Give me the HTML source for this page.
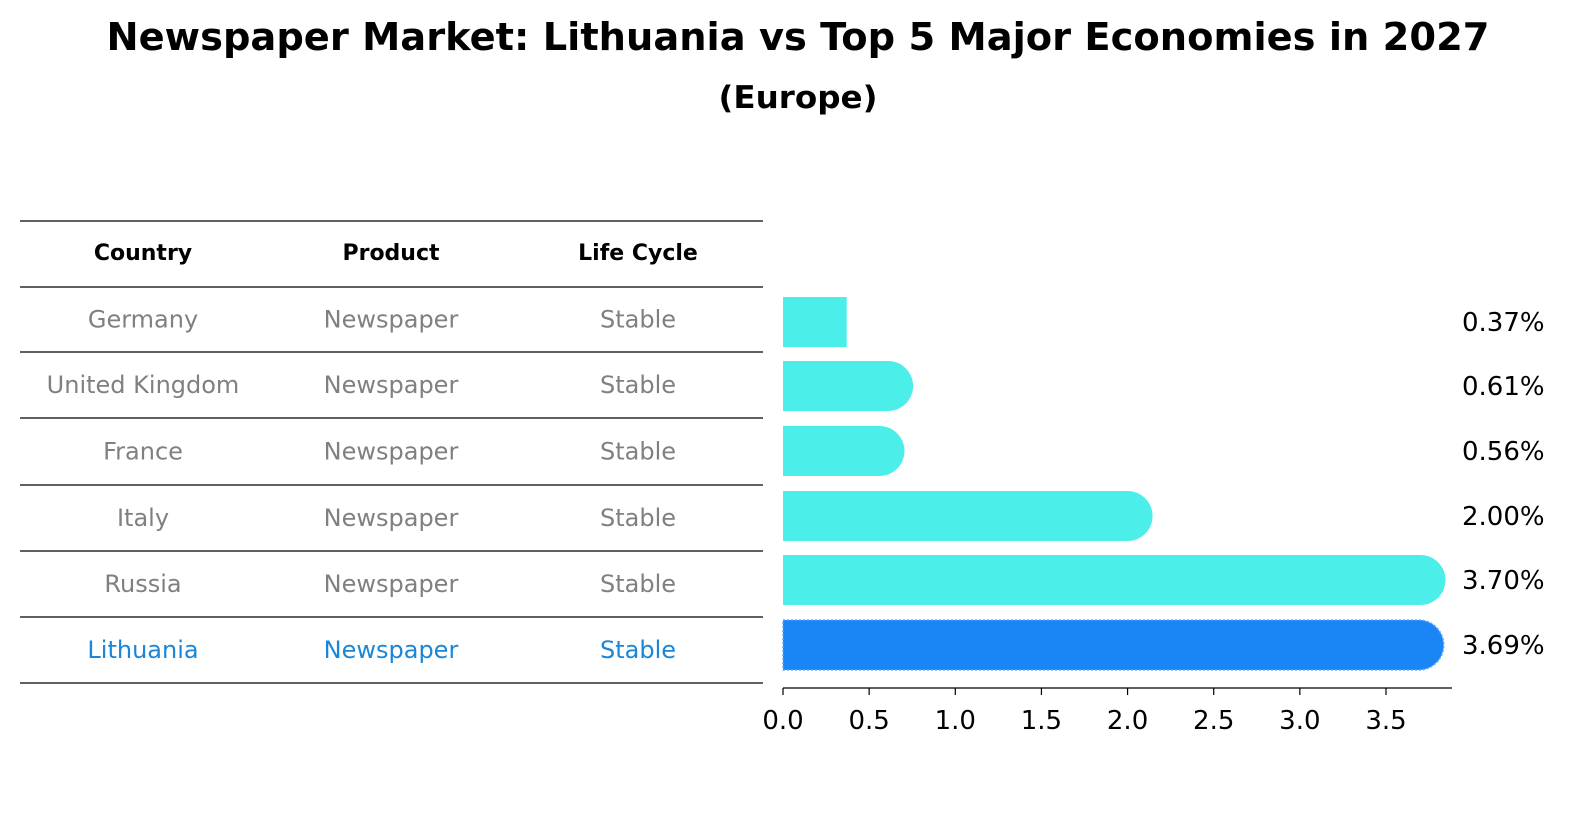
<!DOCTYPE html>
<html><head><meta charset="utf-8"><style>
body{margin:0;background:#fff;font-family:"Liberation Sans","DejaVu Sans",sans-serif;}
</style></head><body>
<svg id="c" width="1586" height="823" xmlns="http://www.w3.org/2000/svg" font-family="DejaVu Sans, Liberation Sans, sans-serif">
<text x="798" y="50" text-anchor="middle" font-size="38" font-weight="bold" textLength="1383" lengthAdjust="spacingAndGlyphs">Newspaper Market: Lithuania vs Top 5 Major Economies in 2027</text>
<text x="798" y="108" text-anchor="middle" font-size="31" font-weight="bold" textLength="159" lengthAdjust="spacingAndGlyphs">(Europe)</text>
<g id="table"></g>
<g id="bars"></g>
</svg>
<script>
const countries=["Germany","United Kingdom","France","Italy","Russia","Lithuania"];
const products=["Newspaper","Newspaper","Newspaper","Newspaper","Newspaper","Newspaper"];
const lifecycle=["Stable","Stable","Stable","Stable","Stable","Stable"];
const values=[0.37,0.61,0.56,2.00,3.70,3.69];
const valueLabels=["0.37%","0.61%","0.56%","2.00%","3.70%","3.69%"];
const ticks=[0,0.5,1,1.5,2,2.5,3,3.5];
const NS="http://www.w3.org/2000/svg";
function mk(t,a,p,txt){const e=document.createElementNS(NS,t);for(const k in a)e.setAttribute(k,a[k]);if(txt!=null)e.textContent=txt;p.appendChild(e);return e;}
const tb=document.getElementById('table');
const lineY=[221,287,352,418,485,551,617,683];
lineY.forEach((y,i)=>{const l=mk('line',{x1:20,x2:763,y1:y,y2:y,stroke:'#000','stroke-width':1.2},tb);
});
const colX=[143,391,638];
["Country","Product","Life Cycle"].forEach((h,i)=>{const t=mk('text',{x:colX[i],y:260,'text-anchor':'middle','font-size':22,'font-weight':'bold'},tb,h);
});
countries.forEach((c,r)=>{const y=(lineY[r+1]+lineY[r+2])/2+8;const col=c==="Lithuania"?'#1a86d8':'#808080';
[c,products[r],lifecycle[r]].forEach((v,i)=>{const t=mk('text',{x:colX[i],y:y,'text-anchor':'middle','font-size':24,fill:col},tb,v);
});});
const bg=document.getElementById('bars');
const x0=783,scale=(1386-783)/3.5;const xs=v=>x0+v*scale;
const rowY=[322,386,451,516,580,645];const bh=50,r=25;
values.forEach((v,i)=>{const isL=countries[i]==="Lithuania";const col=isL?'#1a86f5':'#4beee9';
const g=mk('g',{},bg);
const xe=xs(v);const y=rowY[i]-bh/2;
if(v>=0.5){mk('path',{d:`M${x0},${y}H${xe}A${r},${r} 0 0 1 ${xe},${y+bh}H${x0}Z`,fill:col,stroke:isL?'#5aa8ff':'none','stroke-dasharray':isL?'2,2':'none','stroke-width':1.5},g);}
else mk('rect',{x:x0,y:y,width:xe-x0,height:bh,fill:col},g);
const t=mk('text',{x:1462,y:rowY[i]+9,'font-size':26},bg,valueLabels[i]);
});
const ax=mk('line',{x1:x0,x2:1452,y1:688,y2:688,stroke:'#000','stroke-width':1.3},bg);

ticks.forEach(tv=>{const x=xs(tv);const tk=mk('line',{x1:x,x2:x,y1:688,y2:695,stroke:'#000','stroke-width':1.2},bg);

const t=mk('text',{x:x,y:729,'text-anchor':'middle','font-size':26},bg,tv.toFixed(1));
});
</script>
</body></html>
